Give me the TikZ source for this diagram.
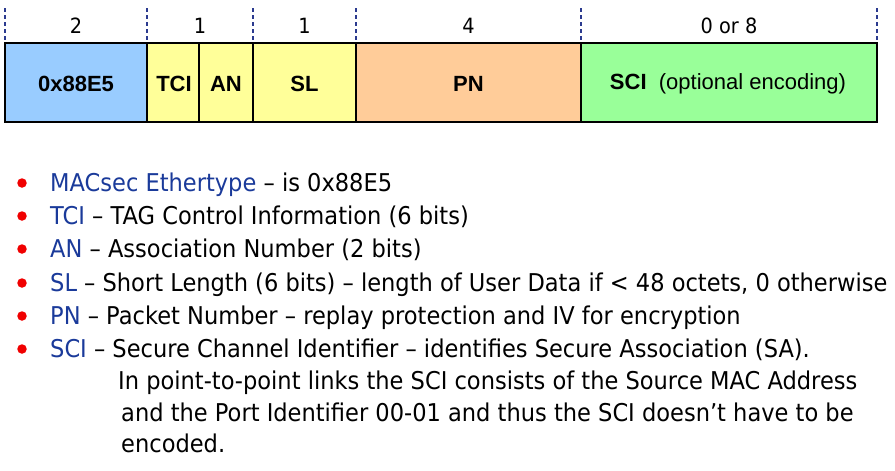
\documentclass[tikz,border=0pt]{standalone}
\usepackage{fontspec}
\setmainfont{Liberation Sans}
\newfontfamily\bodyfont{DejaVu Sans}[FakeStretch=0.92]
\definecolor{ethblue}{HTML}{99CCFF}
\definecolor{tagyellow}{HTML}{FFFF99}
\definecolor{pnorange}{HTML}{FFCC99}
\definecolor{scigreen}{HTML}{99FF99}
\definecolor{keyblue}{HTML}{1A3A9A}
\definecolor{sepblue}{HTML}{2B3A8F}
\definecolor{dotred}{HTML}{F00000}
\begin{document}
\begin{tikzpicture}[x=1pt,y=-1pt,
  field/.style={draw=black,line width=1.3pt},
  sep/.style={draw=sepblue,line width=1.1pt,dash pattern=on 4pt off 3pt},
  fieldlabel/.style={font=\fontsize{22}{26}\selectfont\bfseries,inner sep=0pt},
  sizelabel/.style={font=\bodyfont\fontsize{21}{24}\selectfont,inner sep=0pt,anchor=base},
  item/.style={font=\bodyfont\fontsize{24.5}{28}\selectfont,inner sep=0pt,anchor=base west},
  dot/.style={circle,fill=dotred,inner sep=0pt,minimum size=9.5pt}
]
\useasboundingbox (0,0) rectangle (895,471);

% byte boundaries above the header
\foreach \x/\n in {5/s0,147/s1,253/s2,356/s3,581/s4,877/s5}{
  \coordinate (\n t) at (\x,8);
  \coordinate (\n b) at (\x,43);
  \draw[sep] (\n t) -- (\n b);
}

% header fields
\draw[field,fill=ethblue]   (5,43) rectangle (147,122);
\draw[field,fill=tagyellow] (147,43) rectangle (356,122);
\draw[field] (199,43) -- (199,122);
\draw[field] (253,43) -- (253,122);
\draw[field,fill=pnorange]  (356,43) rectangle (581,122);
\draw[field,fill=scigreen]  (581,43) rectangle (877,122);

\node[fieldlabel] (eth) at (76,84) {0x88E5};
\node[fieldlabel] (tci) at (174,84) {TCI};
\node[fieldlabel] (an)  at (226,84) {AN};
\node[fieldlabel] (sl)  at (304.5,84) {SL};
\node[fieldlabel] (pn)  at (468.5,84) {PN};
\node[inner sep=0pt,font=\fontsize{22}{26}\selectfont] (sci) at (728,84) {\textbf{SCI}\ \ (optional encoding)};

% field sizes in octets
\node[sizelabel] (n2) at (76,34) {2};
\node[sizelabel] (n1a) at (200,34) {1};
\node[sizelabel] (n1b) at (304.5,34) {1};
\node[sizelabel] (n4) at (468.5,34) {4};
\node[sizelabel] (n08) at (729,34) {0 or 8};

% field descriptions
\foreach \y/\n in {183/d1,216/d2,249/d3,283/d4,316/d5,349/d6}
  \node[dot] (\n) at (22,\y) {};

\node[item] (t1) at (50,191) {\textcolor{keyblue}{MACsec Ethertype} – is 0x88E5};
\node[item] (t2) at (50,224) {\textcolor{keyblue}{TCI} – TAG Control Information (6 bits)};
\node[item] (t3) at (50,257) {\textcolor{keyblue}{AN} – Association Number (2 bits)};
\node[item] (t4) at (50,291) {\textcolor{keyblue}{SL} – Short Length (6 bits) – length of User Data if < 48 octets, 0 otherwise};
\node[item] (t5) at (50,324) {\textcolor{keyblue}{PN} – Packet Number – replay protection and IV for encryption};
\node[item] (t6) at (50,357) {\textcolor{keyblue}{SCI} – Secure Channel Identifier – identifies Secure Association (SA).};
\node[item] (t7) at (118,389) {In point-to-point links the SCI consists of the Source MAC Address};
\node[item] (t8) at (121,421) {and the Port Identifier 00-01 and thus the SCI doesn’t have to be};
\node[item] (t9) at (121,452) {encoded.};
\end{tikzpicture}
\end{document}
